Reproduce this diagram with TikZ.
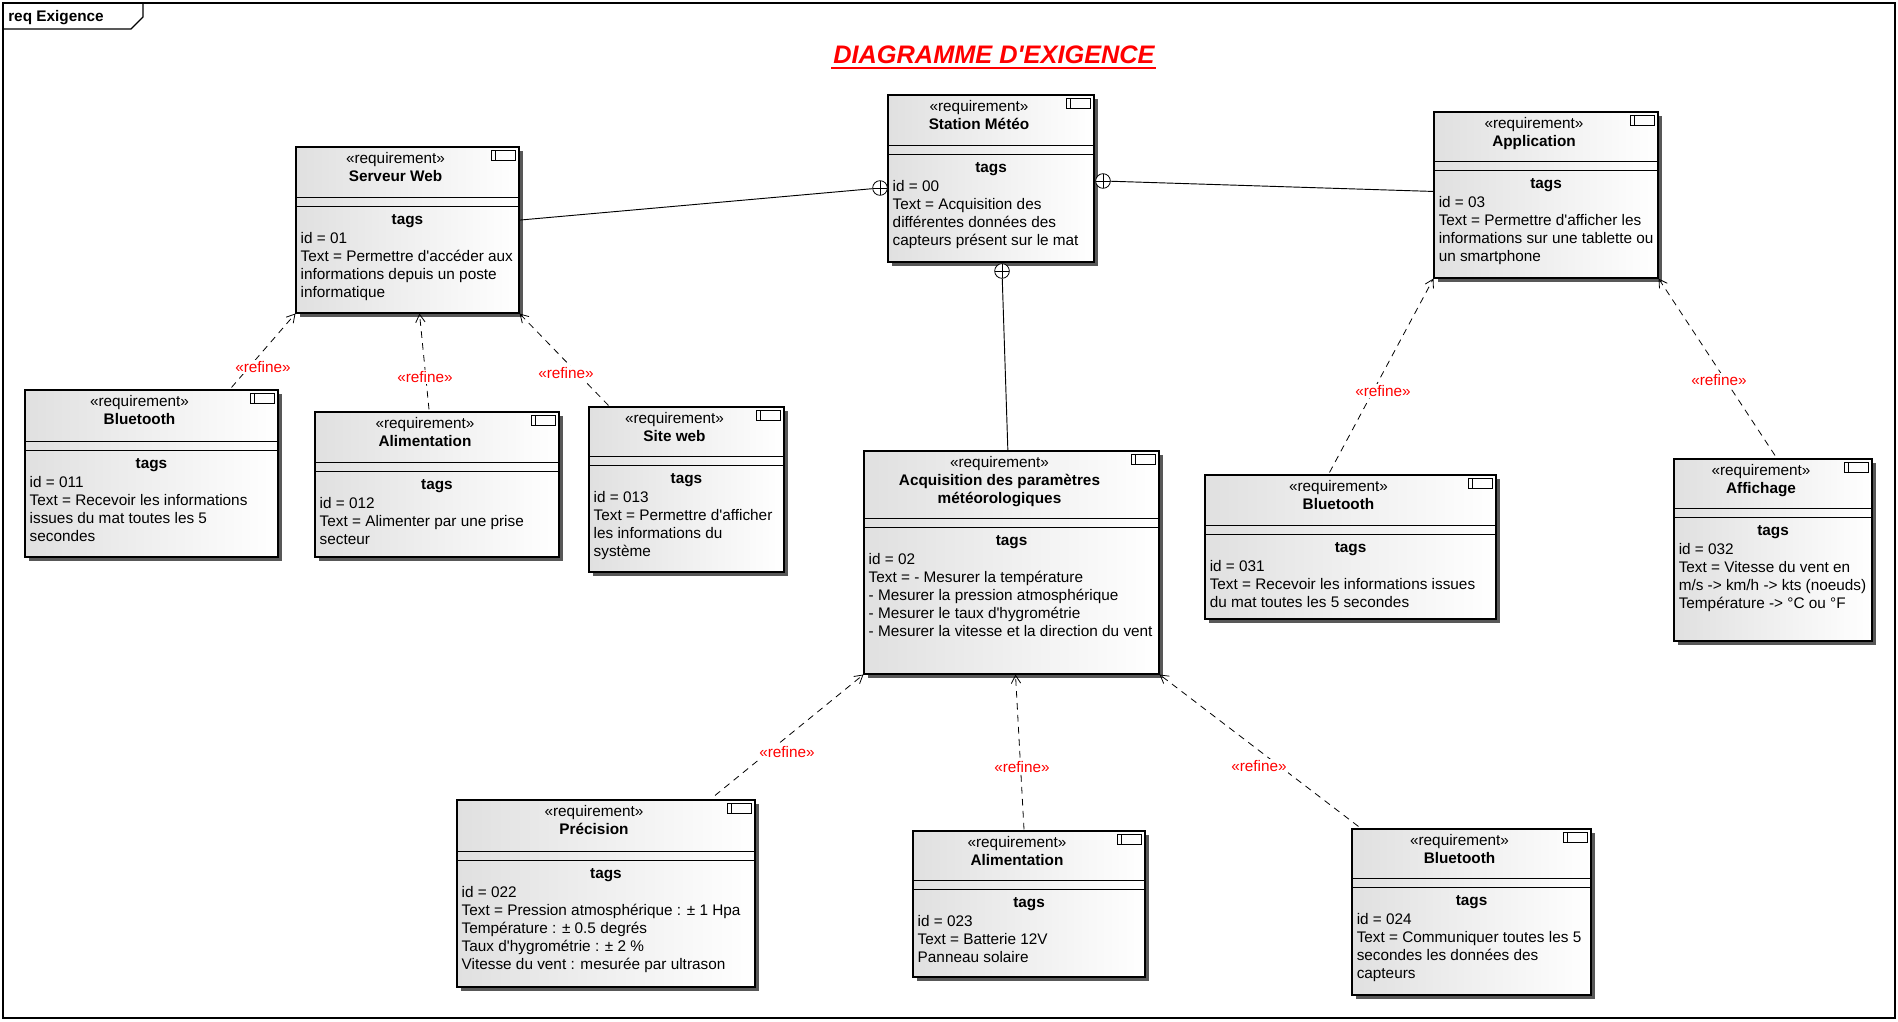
\documentclass[tikz,border=0pt]{standalone}
\usepackage{fontspec}
\setmainfont{Liberation Sans}
\usetikzlibrary{arrows.meta,calc,fit,shadows}

\definecolor{boxgray}{RGB}{224,224,224}
\definecolor{shadowgray}{RGB}{88,88,88}

\newcommand{\txtfont}{\fontsize{11.5}{13.5}\selectfont}

\tikzset{
  reqbox/.style={draw=black, line width=0.8pt, inner sep=0pt,
    left color=boxgray, middle color=white, right color=white,
    drop shadow={shadow xshift=3pt, shadow yshift=-3pt, fill=shadowgray, opacity=1}},
  boxline/.style={draw=black, line width=0.8pt},
  iconline/.style={draw=black, line width=0.6pt},
  stereo/.style={inner sep=0pt, align=center, font=\txtfont},
  tagslbl/.style={inner sep=0pt, font=\txtfont\bfseries},
  bodytext/.style={inner sep=0pt, align=left, font=\txtfont},
  refine/.style={dash pattern=on 5pt off 4pt, line width=0.6pt,
    -{Straight Barb[length=6pt,width=7pt]}},
  refinelbl/.style={text=red, fill=white, inner sep=1pt, font=\txtfont},
  contain/.style={circle, draw, line width=0.6pt, minimum size=11pt, inner sep=0pt, fill=white,
    path picture={\draw[line width=0.6pt] (path picture bounding box.north) -- (path picture bounding box.south)
      (path picture bounding box.west) -- (path picture bounding box.east);}},
  link/.style={line width=0.7pt},
  frame/.style={line width=0.8pt}
}

% requirement block: name, left, top, right, bottom, header height, title, body
\newcommand{\reqbox}[8]{%
  \node[reqbox, fit={(#2,#3) (#4,#5)}] (#1) {};
  \draw[boxline] ($(#1.north west)+(0,#6)$) -- ($(#1.north east)+(0,#6)$);
  \draw[boxline] ($(#1.north west)+(0,#6+9)$) -- ($(#1.north east)+(0,#6+9)$);
  \draw[iconline] ($(#1.north east)+(-28,4)$) rectangle ($(#1.north east)+(-4,14)$);
  \draw[iconline] ($(#1.north east)+(-24,4)$) -- ($(#1.north east)+(-24,14)$);
  \node[stereo, anchor=north] (#1-hd) at ($(#1.north)+(-12,6)$) {«requirement»\\#7};
  \node[tagslbl, anchor=base] (#1-tg) at ($(#1.north)+(0,#6+27)$) {tags};
  \node[bodytext, anchor=north west] (#1-bd) at ($(#1.north west)+(5,#6+35)$) {#8};
}

\begin{document}
\begin{tikzpicture}[x=0.75pt,y=-0.75pt]
    \useasboundingbox (0,0) rectangle (1898,1021);

    % Frame and its tab
    \draw[frame] (3,3) rectangle (1895,1018);
    \draw[frame] (3,29) -- (131,29) -- (143,17) -- (143,3);
    \node[anchor=base west, inner sep=0pt, font=\txtfont\bfseries] (frmlbl) at (8,21) {req Exigence};

    % Title
    \node[anchor=base, inner sep=0pt, text=red, font=\fontsize{19}{23}\selectfont\bfseries\itshape] (title) at (994,63) {DIAGRAMME D\textquotesingle EXIGENCE};
    \draw[red, line width=1.5pt] ($(title.base west)+(-2,5)$) -- ($(title.base east)+(1,5)$);

    % Top level requirements
    \reqbox{station}{888}{95}{1094}{262}{51}{\textbf{Station Météo}}
      {id = 00\\Text = Acquisition des\\différentes données des\\capteurs présent sur le mat}
    \reqbox{srvweb}{296}{147}{519}{313}{51}{\textbf{Serveur Web}}
      {id = 01\\Text = Permettre d\textquotesingle accéder aux\\informations depuis un poste\\informatique}
    \reqbox{app}{1434}{112}{1658}{278}{50}{\textbf{Application}}
      {id = 03\\Text = Permettre d\textquotesingle afficher les\\informations sur une tablette ou\\un smartphone}
    \reqbox{acq}{864}{451}{1159}{674}{68}{\textbf{Acquisition des paramètres}\\\textbf{météorologiques}}
      {id = 02\\Text = - Mesurer la température\\- Mesurer la pression atmosphérique\\- Mesurer le taux d\textquotesingle hygrométrie\\- Mesurer la vitesse et la direction du vent}

    % Children of Serveur Web
    \reqbox{bt11}{25}{390}{278}{557}{52}{\textbf{Bluetooth}}
      {id = 011\\Text = Recevoir les informations\\issues du mat toutes les 5\\secondes}
    \reqbox{alim12}{315}{412}{559}{557}{51}{\textbf{Alimentation}}
      {id = 012\\Text = Alimenter par une prise\\secteur}
    \reqbox{site13}{589}{407}{784}{572}{50}{\textbf{Site web}}
      {id = 013\\Text = Permettre d\textquotesingle afficher\\les informations du\\système}

    % Children of Application
    \reqbox{bt31}{1205}{475}{1496}{619}{51}{\textbf{Bluetooth}}
      {id = 031\\Text = Recevoir les informations issues\\du mat toutes les 5 secondes}
    \reqbox{aff32}{1674}{459}{1872}{641}{50}{\textbf{Affichage}}
      {id = 032\\Text = Vitesse du vent en\\m/s -> km/h -> kts (noeuds)\\Température -> °C ou °F}

    % Children of Acquisition
    \reqbox{prec22}{457}{800}{755}{987}{52}{\textbf{Précision}}
      {id = 022\\Text = Pression atmosphérique : ± 1 Hpa\\Température : ± 0.5 degrés\\Taux d\textquotesingle hygrométrie : ± 2 \%\\Vitesse du vent : mesurée par ultrason}
    \reqbox{alim23}{913}{831}{1145}{977}{50}{\textbf{Alimentation}}
      {id = 023\\Text = Batterie 12V\\Panneau solaire}
    \reqbox{bt24}{1352}{829}{1591}{995}{50}{\textbf{Bluetooth}}
      {id = 024\\Text = Communiquer toutes les 5\\secondes les données des\\capteurs}

    % Containment links
    \node[contain] (o1) at (880,188) {};
    \node[contain] (o2) at (1103,181) {};
    \node[contain] (o3) at (1002,271) {};
    \draw[link] (srvweb) -- (o1);
    \draw[link] (o2) -- (app);
    \draw[link] (o3) -- (acq);

    % Refine links
    \draw[refine] ($(bt11.north)+(80,-2)$) -- (srvweb.south west)
      node[refinelbl] (r1) at (263,367) {«refine»};
    \draw[refine] ($(alim12.north)+(-8,-2)$) -- ($(srvweb.south)+(12,0)$)
      node[refinelbl] (r2) at (425,377) {«refine»};
    \draw[refine] ($(site13.north)+(-78,-1)$) -- (srvweb.south east)
      node[refinelbl] (r3) at (566,373) {«refine»};
    \draw[refine] ($(bt31.north)+(-21,-2)$) -- (app.south west)
      node[refinelbl] (r4) at (1383,391) {«refine»};
    \draw[refine] ($(aff32.north)+(2,-3)$) -- (app.south east)
      node[refinelbl] (r5) at (1719,380) {«refine»};
    \draw[refine] ($(prec22.north)+(109,-4)$) -- (acq.south west)
      node[refinelbl] (r6) at (787,752) {«refine»};
    \draw[refine] ($(alim23.north)+(-5,-1)$) -- ($(acq.south)+(4,0)$)
      node[refinelbl] (r7) at (1022,767) {«refine»};
    \draw[refine] ($(bt24.north west)+(7,-2)$) -- (acq.south east)
      node[refinelbl] (r8) at (1259,766) {«refine»};

\end{tikzpicture}
\end{document}
